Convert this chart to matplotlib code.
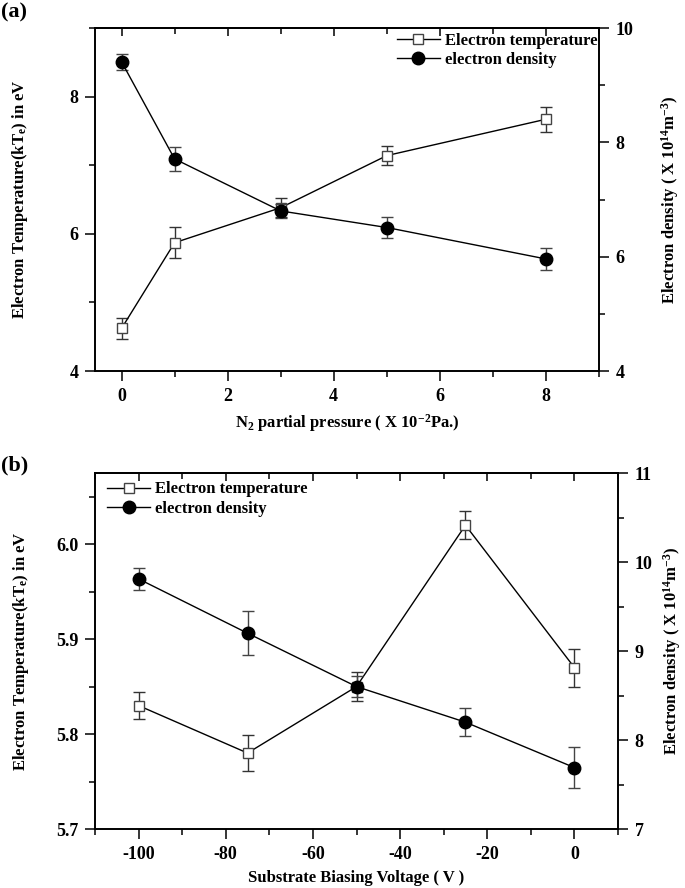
import numpy as np
import matplotlib
matplotlib.use("Agg")
import matplotlib.pyplot as plt
from matplotlib.ticker import MultipleLocator

plt.rcParams['font.family'] = ['Liberation Serif', 'DejaVu Serif']
plt.rcParams['font.weight'] = 'bold'
plt.rcParams['axes.labelweight'] = 'bold'
plt.rcParams['axes.unicode_minus'] = False
plt.rcParams['mathtext.fontset'] = 'custom'
plt.rcParams['mathtext.rm'] = 'Liberation Serif:bold'
plt.rcParams['mathtext.it'] = 'Liberation Serif:bold'
plt.rcParams['mathtext.bf'] = 'Liberation Serif:bold'
plt.rcParams['axes.linewidth'] = 1.2

# ---------------- data (a) ----------------
n2_pressure = [0, 1, 3, 5, 8]
temp_a = [4.62, 5.87, 6.38, 7.14, 7.67]
temp_a_err = [0.15, 0.23, 0.14, 0.14, 0.18]
dens_a = [9.41, 7.71, 6.80, 6.51, 5.96]
dens_a_err = [0.14, 0.21, 0.12, 0.19, 0.20]

# ---------------- data (b) ----------------
bias_voltage = [-100, -75, -50, -25, 0]
temp_b = [5.830, 5.780, 5.850, 6.020, 5.870]
temp_b_err = [0.014, 0.019, 0.015, 0.015, 0.020]
dens_b = [9.81, 9.20, 8.60, 8.20, 7.69]
dens_b_err = [0.12, 0.25, 0.12, 0.16, 0.23]

FS = 12
W, H = 685, 888
fig = plt.figure(figsize=(W / 100, H / 100), dpi=100)


def px_axes(left, top, right, bottom):
    return fig.add_axes([left / W, 1 - bottom / H, (right - left) / W, (bottom - top) / H])


def draw_panel(ax, x, t, te, d, de, xlim, ylim_l, ylim_r, xmaj, xmin, ylmaj, ylmin,
               yrmaj, yrmin, xlabel, legend_loc, legend_anchor, ylfmt, yrfmt, lab_pos):
    ax2 = ax.twinx()
    lt, = ax.plot(x, t, color='black', lw=1.0, marker='s', ms=7, mfc='white',
                  mec='#444444', mew=1.0, zorder=3)
    ax.errorbar(x, t, yerr=te, fmt='none', ecolor='#333333', elinewidth=1.0,
                capsize=4, capthick=1.0, zorder=2)
    ld, = ax2.plot(x, d, color='black', lw=1.0, marker='o', ms=9, mfc='black',
                   mec='black', zorder=3)
    ax2.errorbar(x, d, yerr=de, fmt='none', ecolor='#444444', elinewidth=1.0,
                 capsize=4, capthick=1.0, zorder=2)

    ax.set_xlim(*xlim)
    ax.set_ylim(*ylim_l)
    ax2.set_ylim(*ylim_r)
    ax.xaxis.set_major_locator(MultipleLocator(xmaj))
    ax.xaxis.set_minor_locator(MultipleLocator(xmin))
    ax.yaxis.set_major_locator(MultipleLocator(ylmaj))
    ax.yaxis.set_minor_locator(MultipleLocator(ylmin))
    ax2.yaxis.set_major_locator(MultipleLocator(yrmaj))
    ax2.yaxis.set_minor_locator(MultipleLocator(yrmin))
    ax.yaxis.set_major_formatter(plt.FormatStrFormatter(ylfmt))
    ax2.yaxis.set_major_formatter(plt.FormatStrFormatter(yrfmt))

    ax.tick_params(axis='both', which='major', direction='out', length=7, width=1.1,
                   labelsize=FS + 1, pad=5)
    ax.tick_params(axis='both', which='minor', direction='out', length=4, width=1.1)
    ax2.tick_params(axis='y', which='major', direction='out', length=7, width=1.1,
                    labelsize=FS + 1, pad=5)
    ax2.tick_params(axis='y', which='minor', direction='out', length=4, width=1.1)

    top = ax.secondary_xaxis('top')
    top.xaxis.set_major_locator(MultipleLocator(xmaj))
    top.xaxis.set_minor_locator(MultipleLocator(xmin))
    top.tick_params(which='major', direction='in', length=6, width=1.1, labeltop=False)
    top.tick_params(which='minor', direction='in', length=4, width=1.1)

    ax.set_xlabel(xlabel, fontsize=FS)
    ax.set_ylabel('Electron Temperature(kT$_{e}$) in eV', fontsize=FS)
    ax2.set_ylabel('Electron density ( X 10$^{14}$m$^{-3}$)', fontsize=FS)
    ax.xaxis.set_label_coords(0.5, lab_pos[0])
    ax.yaxis.set_label_coords(lab_pos[1], 0.5)
    ax2.yaxis.set_label_coords(lab_pos[2], 0.5)

    ax.legend([lt, ld], ['Electron temperature', 'electron density'],
              loc=legend_loc, bbox_to_anchor=legend_anchor, frameon=False,
              fontsize=FS, handlelength=2.6, handletextpad=0.3, labelspacing=0.2,
              borderaxespad=0.0)
    return ax2


ax_a = px_axes(95, 28, 599, 371)
draw_panel(ax_a, n2_pressure, temp_a, temp_a_err, dens_a, dens_a_err,
           (-0.5, 9), (4, 9), (4, 10), 2, 1, 2, 1, 2, 1,
           'N$_{2}$ partial pressure ( X 10$^{-2}$Pa.)',
           'upper right', (1.01, 1.005), '%d', '%d', (-0.12, -0.128, 1.12))

ax_b = px_axes(95, 473, 618, 829)
draw_panel(ax_b, bias_voltage, temp_b, temp_b_err, dens_b, dens_b_err,
           (-110, 10), (5.7, 6.075), (7, 11), 20, 10, 0.1, 0.05, 1, 0.5,
           'Substrate Biasing Voltage ( V )',
           'upper left', (0.01, 0.995), '%.1f', '%d', (-0.115, -0.123, 1.082))

fig.text(0.002, 0.997, '(a)', fontsize=16, fontweight='bold', va='top', ha='left')
fig.text(0.002, 0.487, '(b)', fontsize=16, fontweight='bold', va='top', ha='left')

fig.savefig('out.png', dpi=100)
